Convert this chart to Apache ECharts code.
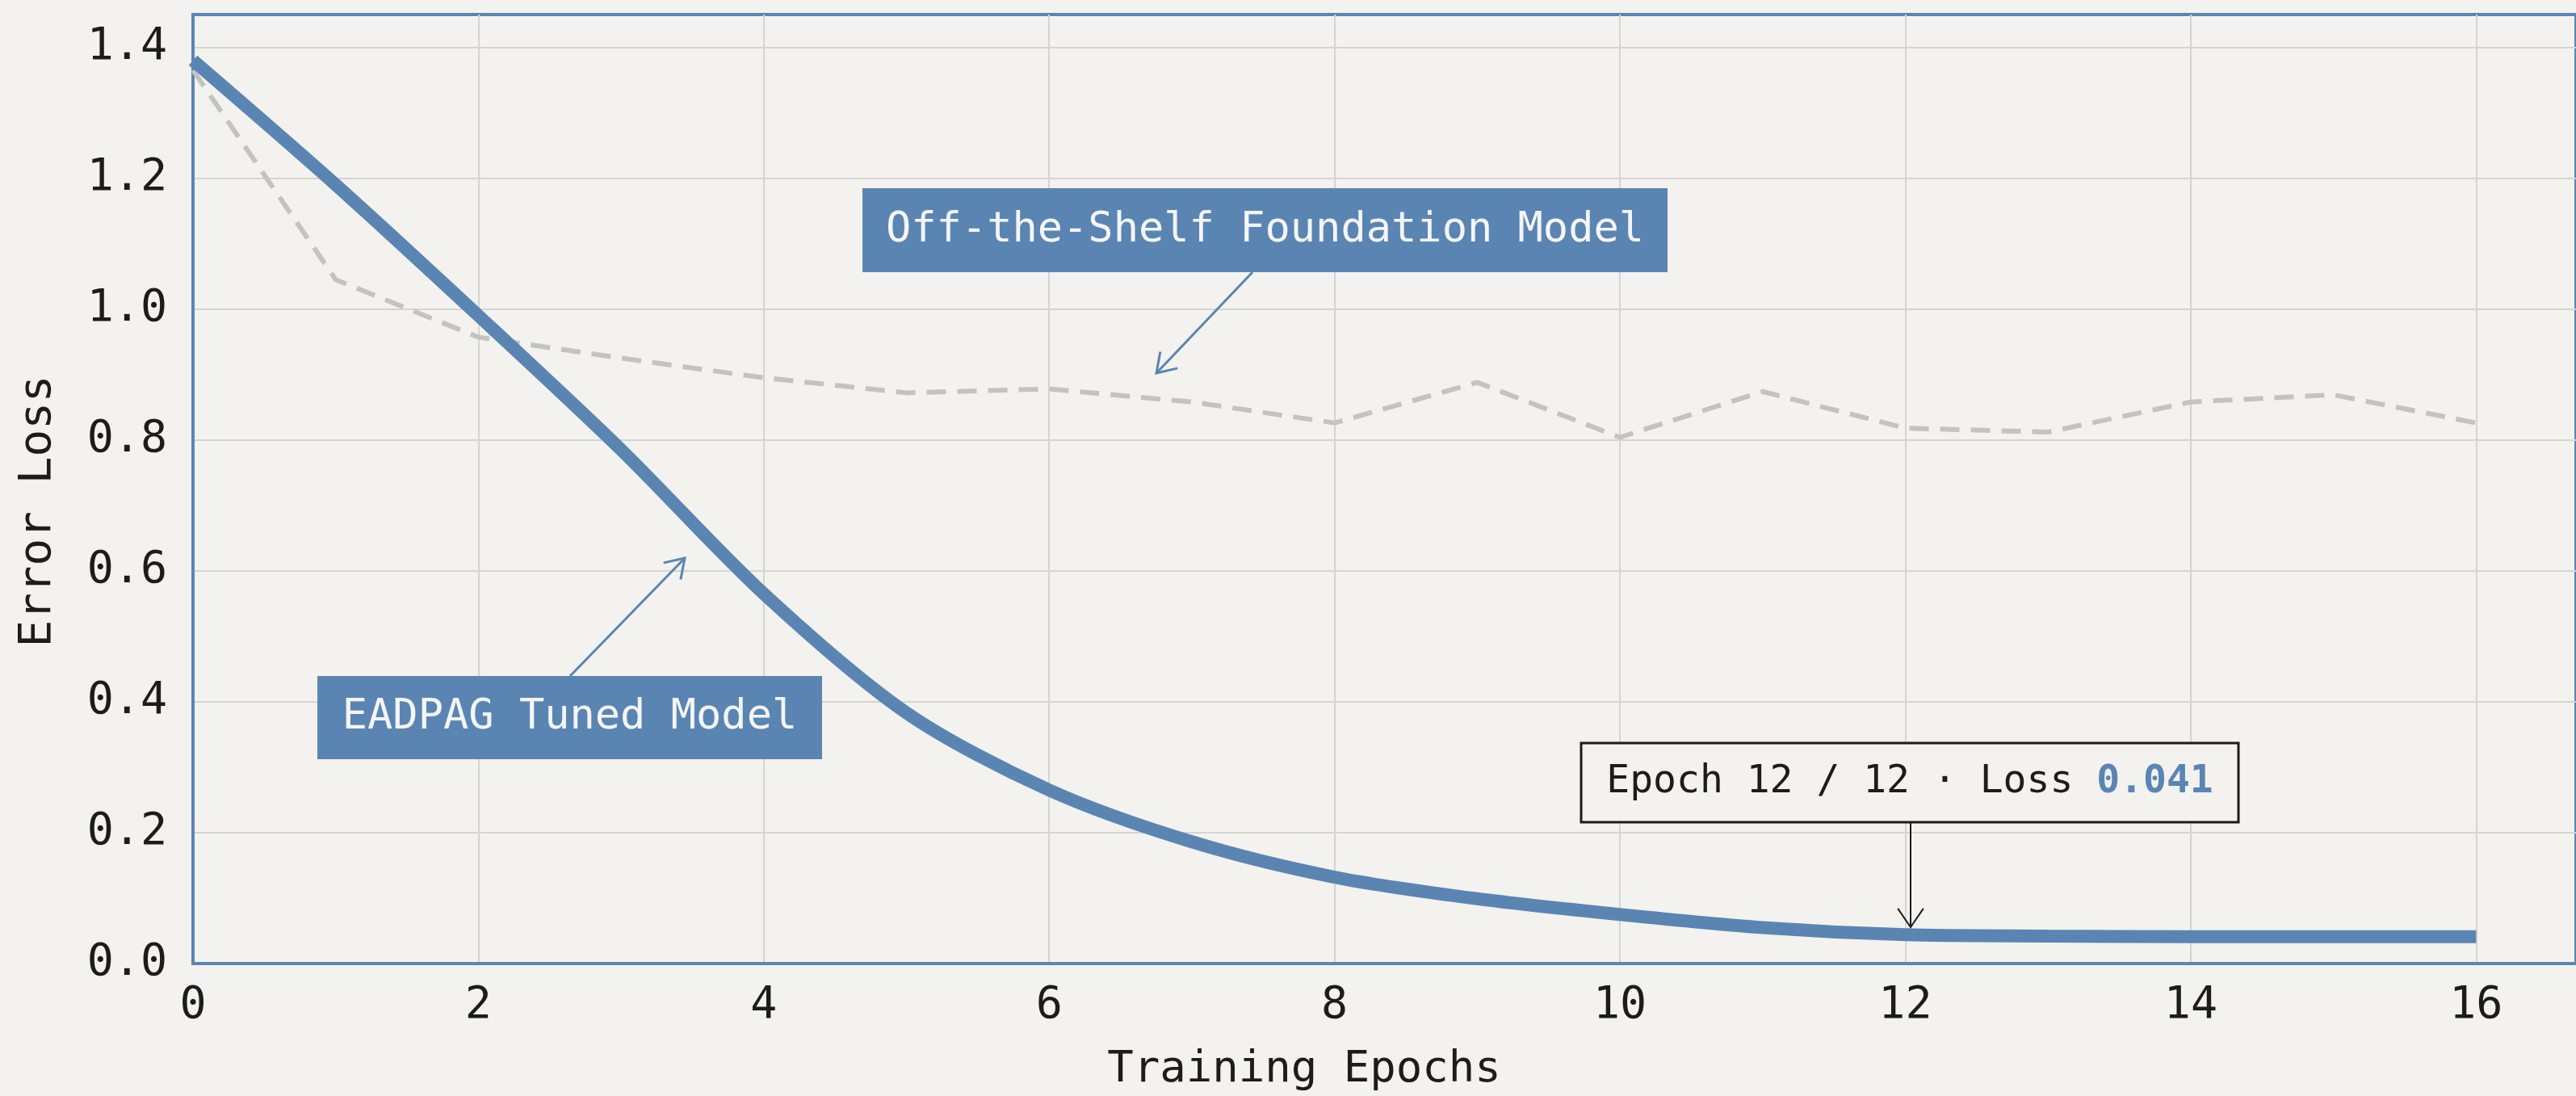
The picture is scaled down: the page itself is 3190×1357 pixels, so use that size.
<!DOCTYPE html>
<html>
<head>
<meta charset="utf-8">
<title>Error Loss vs Training Epochs</title>
<script src="https://cdn.jsdelivr.net/npm/echarts@6/dist/echarts.min.js"></script>
<style>
  html, body { margin: 0; padding: 0; background: #f3f2ee; }
  #chart { width: 3190px; height: 1357px; }
</style>
</head>
<body>
<div id="chart"></div>
<script>
// data
var epochs = [0, 1, 2, 3, 4, 5, 6, 7, 8, 9, 10, 11, 12, 13, 14, 15, 16];
var tunedLoss = [1.38, 1.19, 0.99, 0.785, 0.565, 0.383, 0.265, 0.186, 0.132, 0.099, 0.075, 0.055, 0.044, 0.042, 0.041, 0.041, 0.041];
var baseLoss = [1.365, 1.045, 0.957, 0.925, 0.895, 0.872, 0.878, 0.858, 0.826, 0.888, 0.804, 0.874, 0.818, 0.812, 0.858, 0.869, 0.826];
var yTicks = [0, 0.2, 0.4, 0.6, 0.8, 1.0, 1.2, 1.4];
var xTicks = [0, 2, 4, 6, 8, 10, 12, 14, 16];

var mono = '"DejaVu Sans Mono", "Liberation Mono", monospace';
var bg = '#f3f2ee';
var blue = '#5a85b3';
var ink = '#1c1c1c';
var gridGray = '#d4d4d1';

function pairs(xs, ys) {
  return xs.map(function (x, i) { return [x, ys[i]]; });
}

// straight arrow with an open V head
function arrow(x1, y1, x2, y2, color, width, len, ang) {
  var t = Math.atan2(y2 - y1, x2 - x1);
  return [
    { type: 'line', z: 100, shape: { x1: x1, y1: y1, x2: x2, y2: y2 },
      style: { stroke: color, lineWidth: width } },
    { type: 'polyline', z: 100,
      shape: { points: [
        [x2 - len * Math.cos(t - ang), y2 - len * Math.sin(t - ang)],
        [x2, y2],
        [x2 - len * Math.cos(t + ang), y2 - len * Math.sin(t + ang)]
      ] },
      style: { stroke: color, lineWidth: width, fill: null } }
  ];
}

function tag(x, y, w, h, text) {
  return [
    { type: 'rect', z: 100, shape: { x: x, y: y, width: w, height: h }, style: { fill: blue } },
    { type: 'text', z: 101, x: x + w / 2, y: y + h / 2,
      style: { text: text, fill: '#f4f5f7', font: '52px ' + mono,
        align: 'center', verticalAlign: 'middle', textAlign: 'center', textVerticalAlign: 'middle' } }
  ];
}

var chart = echarts.init(document.getElementById('chart'));

var graphics = []
  .concat(tag(1068, 233, 997, 104, 'Off-the-Shelf Foundation Model'))
  .concat(arrow(1551, 337, 1432, 462, blue, 3, 27, 0.58))
  .concat(tag(393, 837, 625, 103, 'EADPAG Tuned Model'))
  .concat(arrow(706, 837, 848, 691, blue, 3, 27, 0.58))
  .concat([
    { type: 'rect', z: 100, shape: { x: 1958, y: 920, width: 814, height: 98 },
      style: { fill: bg, stroke: ink, lineWidth: 3 } },
    { type: 'text', z: 101, x: 2365, y: 969,
      style: {
        text: '{a|Epoch 12 / 12 \u00b7 Loss }{b|0.041}',
        align: 'center', verticalAlign: 'middle', textAlign: 'center', textVerticalAlign: 'middle',
        rich: {
          a: { fontFamily: mono, fontSize: 48, fill: ink, color: ink },
          b: { fontFamily: mono, fontSize: 48, fontWeight: 'bold', fill: blue, color: blue }
        }
      } }
  ])
  .concat(arrow(2366, 1018, 2366, 1148, ink, 2, 28, 0.6))
  .concat([
    { type: 'text', z: 101, x: 1615, y: 1325,
      style: { text: 'Training Epochs', fill: ink, font: '54px ' + mono,
        align: 'center', verticalAlign: 'middle', textAlign: 'center', textVerticalAlign: 'middle' } },
    { type: 'text', z: 101, x: 47, y: 633, rotation: Math.PI / 2,
      style: { text: 'Error Loss', fill: ink, font: '56px ' + mono,
        align: 'center', verticalAlign: 'middle', textAlign: 'center', textVerticalAlign: 'middle' } }
  ]);

var option = {
  backgroundColor: bg,
  animation: false,
  grid: {
    left: 239, top: 18, right: -10, bottom: 164,
    show: true, borderColor: blue, borderWidth: 4, backgroundColor: 'transparent'
  },
  xAxis: {
    type: 'value',
    min: xTicks[0],
    max: 16.7,
    interval: 2,
    axisLine: { lineStyle: { color: blue, width: 4 } },
    axisTick: { show: false },
    splitLine: { show: true, showMaxLine: false, lineStyle: { color: gridGray, width: 2 } },
    axisLabel: {
      showMaxLabel: false,
      margin: 25,
      color: ink,
      fontFamily: mono,
      fontSize: 55,
      formatter: function (v) { return xTicks.indexOf(v) >= 0 ? String(v) : ''; }
    }
  },
  yAxis: {
    type: 'value',
    min: yTicks[0],
    max: 1.45,
    interval: 0.2,
    axisLine: { show: true, lineStyle: { color: blue, width: 4 } },
    axisTick: { show: false },
    splitLine: { show: true, showMaxLine: false, lineStyle: { color: gridGray, width: 2 } },
    axisLabel: {
      showMaxLabel: false,
      margin: 32,
      color: ink,
      fontFamily: mono,
      fontSize: 55,
      formatter: function (v) { return v.toFixed(1); }
    }
  },
  series: [
    {
      name: 'Off-the-Shelf Foundation Model',
      type: 'line',
      data: pairs(epochs, baseLoss),
      showSymbol: false,
      z: 2,
      lineStyle: { color: '#c3c3c0', width: 6, type: [24, 14] }
    },
    {
      name: 'EADPAG Tuned Model',
      type: 'line',
      data: pairs(epochs, tunedLoss),
      showSymbol: false,
      smooth: 0.3,
      z: 3,
      lineStyle: { color: blue, width: 16, cap: 'butt' }
    }
  ],
  graphic: graphics
};

chart.setOption(option);
</script>
</body>
</html>
